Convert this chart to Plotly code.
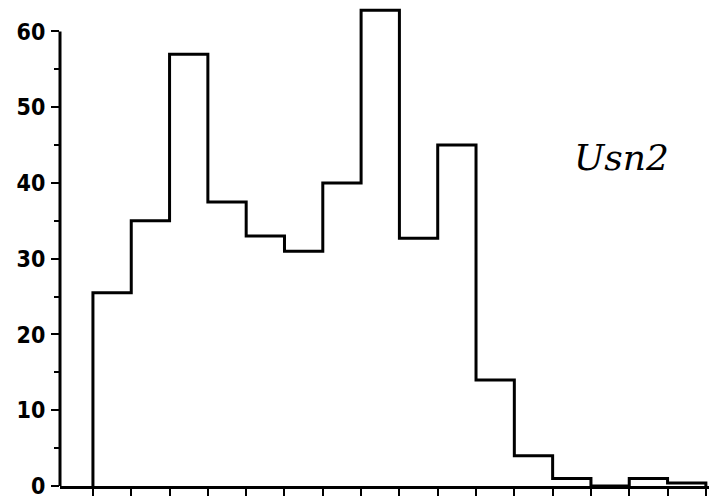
import plotly.graph_objects as go

# Histogram data (16 equal-width bins, no x labels in original)
bin_edges = list(range(17))
counts = [25.5, 35, 57, 37.5, 33, 31, 40, 62.8, 32.7, 45, 14, 4, 1, 0, 1, 0.4]
y_ticks = [0, 10, 20, 30, 40, 50, 60]
y_minor = [5, 15, 25, 35, 45, 55]
label_text = "Usn2"

xs = [bin_edges[0]] + bin_edges + [bin_edges[-1]]
ys = [0] + counts + [counts[-1]] + [0]

fig = go.Figure()
fig.add_trace(go.Scatter(
    x=xs, y=ys, mode="lines", line_shape="hv",
    line=dict(color="black", width=3), showlegend=False, hoverinfo="skip",
))

# y-axis line (ends at 60)
fig.add_shape(type="line", xref="paper", yref="y", x0=0, x1=0, y0=0, y1=60,
              line=dict(color="black", width=3))

fig.add_annotation(text=label_text, x=13.8, y=43.4, xref="x", yref="y",
                   showarrow=False,
                   font=dict(family="DejaVu Serif", size=36, color="black",
                             style="italic", weight="normal"))

fig.update_layout(
    width=717, height=499,
    margin=dict(l=52, r=13, t=0, b=21),
    paper_bgcolor="white", plot_bgcolor="white",
    font=dict(family="DejaVu Sans Condensed, Liberation Sans Narrow, sans-serif",
              size=22, color="black"),
)
fig.update_xaxes(
    range=[-0.86, 16.16], showgrid=False, zeroline=False,
    showline=True, linecolor="black", linewidth=3,
    tickmode="array", tickvals=bin_edges, ticks="outside", ticklen=7,
    tickwidth=2, tickcolor="black", showticklabels=False,
)
fig.update_yaxes(
    range=[0, 63.1], showgrid=False, zeroline=False, showline=False,
    tickmode="array", tickvals=y_ticks, ticks="outside", ticklen=8,
    tickwidth=2, tickcolor="black", ticklabelstandoff=1,
    ticklabeloverflow="allow",
    tickfont=dict(family="DejaVu Sans Condensed, Liberation Sans Narrow, sans-serif",
                  size=23, color="black", weight="bold"),
    minor=dict(tickmode="array", tickvals=y_minor, ticks="outside",
               ticklen=5, tickwidth=2, tickcolor="black", showgrid=False),
)

fig.write_html("out.html")
